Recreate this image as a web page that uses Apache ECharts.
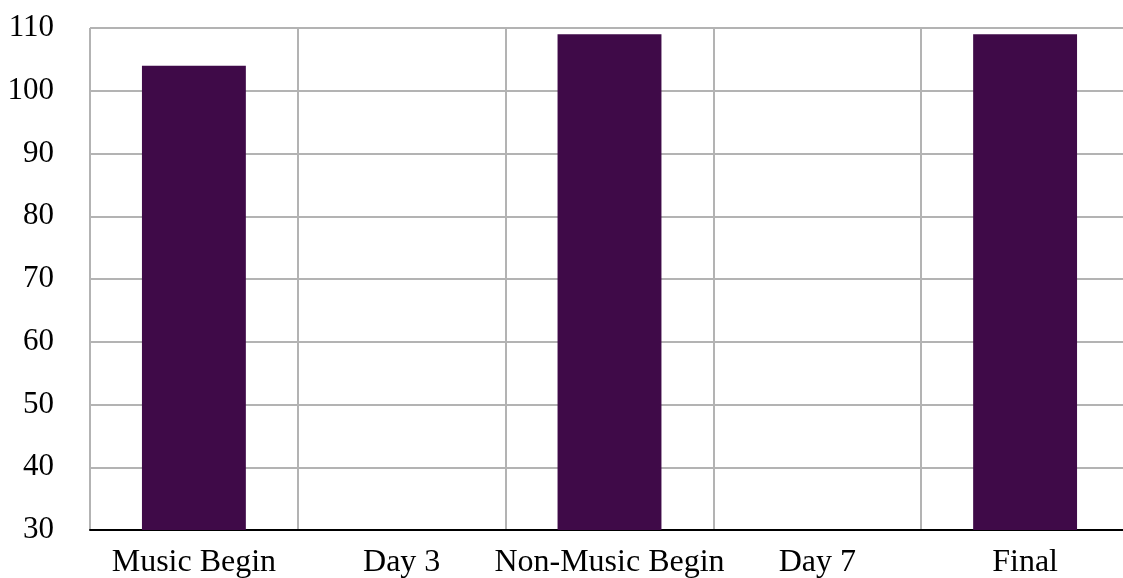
<!DOCTYPE html>
<html><head><meta charset="utf-8">
<script src="https://cdn.jsdelivr.net/npm/echarts@6/dist/echarts.min.js"></script>
<style>html,body{margin:0;padding:0;background:#fff;overflow:hidden}#c{width:1123px;height:578px}</style>
</head><body><div id="c"></div>
<script>
const categories = ["Music Begin", "Day 3", "Non-Music Begin", "Day 7", "Final"];
const values = [104, null, 109, null, 109];
const yMin = 30, yMax = 110, yStep = 10;

const chart = echarts.init(document.getElementById('c'), null, {renderer: 'canvas'});
const font = '"Liberation Serif", "Times New Roman", serif';
chart.setOption({
  animation: false,
  backgroundColor: '#ffffff',
  grid: {left: 90, top: 28, width: 1039, height: 502, containLabel: false, outerBoundsMode: 'none'},
  xAxis: {
    type: 'category',
    data: categories,
    boundaryGap: true,
    axisLine: {show: true, lineStyle: {color: '#000', width: 2}},
    axisTick: {show: false},
    axisLabel: {fontFamily: font, fontSize: 32, color: '#000', margin: 17, interval: 0},
    splitLine: {show: true, interval: 0, lineStyle: {color: '#b3b3b3', width: 2}}
  },
  yAxis: {
    type: 'value',
    min: yMin, max: yMax, interval: yStep,
    axisLine: {show: false},
    axisTick: {show: false},
    axisLabel: {fontFamily: font, fontSize: 31, color: '#000', margin: 36},
    splitLine: {show: true, lineStyle: {color: '#b3b3b3', width: 2}}
  },
  series: [{
    type: 'bar',
    data: values,
    barWidth: '50%',
    itemStyle: {color: '#3f0a48'}
  }]
});
</script></body></html>
